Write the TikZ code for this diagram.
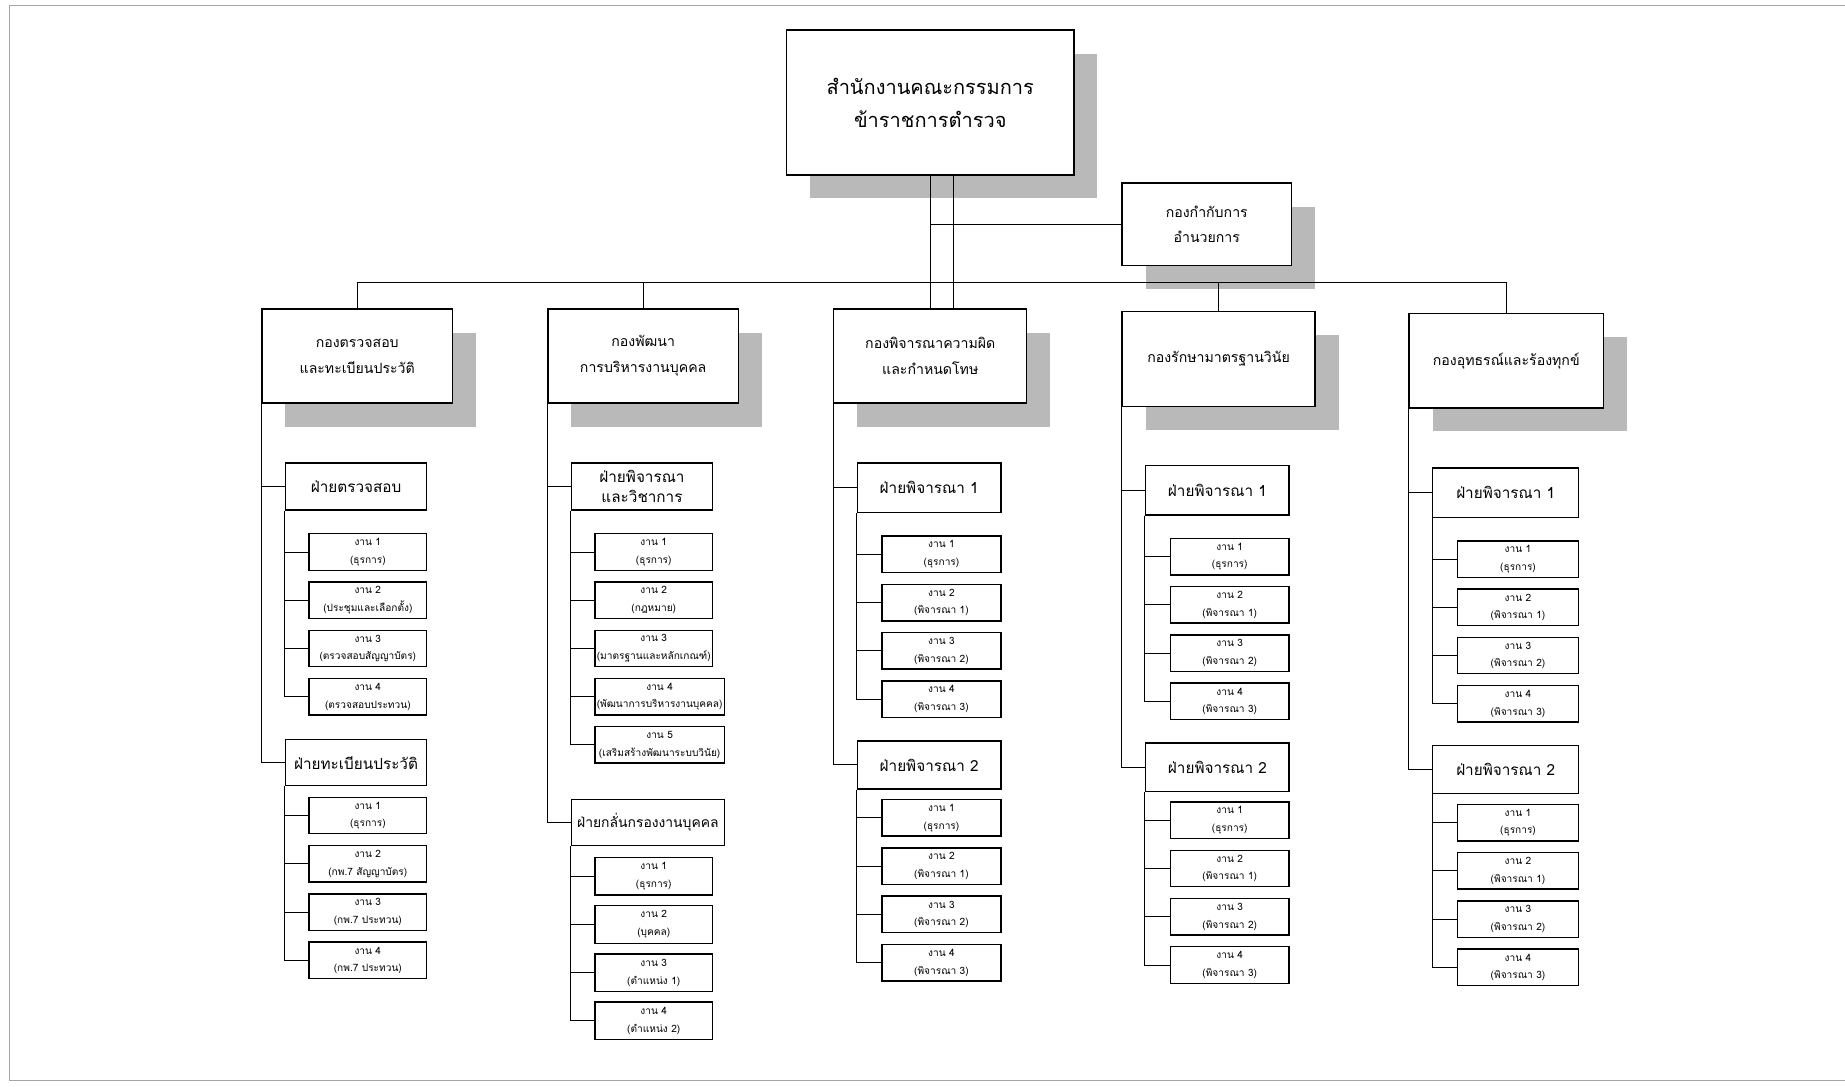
\documentclass[tikz,border=0pt]{standalone}
\usepackage{fontspec}
\setmainfont{Loma}[Script=Thai]
\usetikzlibrary{shadows}
\begin{document}
\begin{tikzpicture}[x=1pt,y=-1pt,
 box/.style={draw, line width=1.2pt, fill=white, align=center, inner sep=0pt, anchor=north west},
 shad/.style={drop shadow={shadow xshift=20pt,shadow yshift=-20pt,fill=gray!55,opacity=1,draw=none}},
 conn/.style={line width=0.8pt},
 frame/.style={line width=0.8pt, draw=gray!70},
 t1/.style={font=\fontsize{17}{28}\selectfont},
 t2/.style={font=\fontsize{12}{22}\selectfont},
 t3/.style={font=\fontsize{13}{17}\selectfont},
 t3s/.style={font=\fontsize{11.8}{17}\selectfont},
 t4/.style={font=\fontsize{8.6}{15}\selectfont},
]
\useasboundingbox (0,0) rectangle (1568,923);
\draw[frame] (1568,5) -- (8,5) -- (8,918) -- (1568,918);

% top level
\node[box,shad,t1,minimum width=244pt,minimum height=123pt] (top) at (668,25) {สำนักงานคณะกรรมการ\\ข้าราชการตำรวจ};
\node[box,shad,t2,minimum width=144pt,minimum height=70pt] (side) at (953,155) {กองกำกับการ\\อำนวยการ};

% level 2
\node[box,shad,t2,minimum width=162pt,minimum height=80pt] (c1) at (222,262) {กองตรวจสอบ\\และทะเบียนประวัติ};
\node[box,shad,t2,minimum width=162pt,minimum height=80pt] (c2) at (465,262) {กองพัฒนา\\การบริหารงานบุคคล};
\node[box,shad,t2,minimum width=164pt,minimum height=80pt] (c3) at (708,262) {กองพิจารณาความผิด\\และกำหนดโทษ};
\node[box,shad,t2,minimum width=164pt,minimum height=81pt] (c4) at (953,264) {กองรักษามาตรฐานวินัย};
\node[box,shad,t2,minimum width=165pt,minimum height=80pt] (c5) at (1197,266) {กองอุทธรณ์และร้องทุกข์};

% column 1
\node[box,t3,minimum width=120pt,minimum height=40pt] (f11) at (242,393) {ฝ่ายตรวจสอบ};
\node[box,t4,minimum width=100pt,minimum height=31pt] (g111) at (262,453) {งาน 1\\(ธุรการ)};
\node[box,t4,minimum width=100pt,minimum height=31pt] (g112) at (262,494) {งาน 2\\(ประชุมและเลือกตั้ง)};
\node[box,t4,minimum width=100pt,minimum height=31pt] (g113) at (262,535) {งาน 3\\(ตรวจสอบสัญญาบัตร)};
\node[box,t4,minimum width=100pt,minimum height=31pt] (g114) at (262,576) {งาน 4\\(ตรวจสอบประทวน)};
\node[box,t3,minimum width=120pt,minimum height=39pt] (f12) at (242,628) {ฝ่ายทะเบียนประวัติ};
\node[box,t4,minimum width=100pt,minimum height=31pt] (g121) at (262,677) {งาน 1\\(ธุรการ)};
\node[box,t4,minimum width=100pt,minimum height=31pt] (g122) at (262,718) {งาน 2\\(กพ.7 สัญญาบัตร)};
\node[box,t4,minimum width=100pt,minimum height=31pt] (g123) at (262,759) {งาน 3\\(กพ.7 ประทวน)};
\node[box,t4,minimum width=100pt,minimum height=31pt] (g124) at (262,800) {งาน 4\\(กพ.7 ประทวน)};

% column 2
\node[box,t3,minimum width=120pt,minimum height=40pt] (f21) at (485,393) {ฝ่ายพิจารณา\\และวิชาการ};
\node[box,t4,minimum width=100pt,minimum height=31pt] (g211) at (505,453) {งาน 1\\(ธุรการ)};
\node[box,t4,minimum width=100pt,minimum height=31pt] (g212) at (505,494) {งาน 2\\(กฎหมาย)};
\node[box,t4,minimum width=100pt,minimum height=31pt] (g213) at (505,535) {งาน 3\\(มาตรฐานและหลักเกณฑ์)};
\node[box,t4,minimum width=110pt,minimum height=31pt] (g214) at (505,576) {งาน 4\\(พัฒนาการบริหารงานบุคคล)};
\node[box,t4,minimum width=110pt,minimum height=31pt] (g215) at (505,617) {งาน 5\\(เสริมสร้างพัฒนาระบบวินัย)};
\node[box,t3s,minimum width=130pt,minimum height=39pt] (f22) at (485,679) {ฝ่ายกลั่นกรองงานบุคคล};
\node[box,t4,minimum width=100pt,minimum height=32pt] (g221) at (505,728) {งาน 1\\(ธุรการ)};
\node[box,t4,minimum width=100pt,minimum height=32pt] (g222) at (505,769) {งาน 2\\(บุคคล)};
\node[box,t4,minimum width=100pt,minimum height=32pt] (g223) at (505,810) {งาน 3\\(ตำแหน่ง 1)};
\node[box,t4,minimum width=100pt,minimum height=32pt] (g224) at (505,851) {งาน 4\\(ตำแหน่ง 2)};

% columns 3-5
\foreach \c/\dx/\dy/\w in {3/0/0/0,4/245/2/0,5/489/4/2}{
  \node[box,t3,minimum width={(122+\w)*1pt},minimum height=42pt] (f\c1) at (728+\dx,393+\dy) {ฝ่ายพิจารณา 1};
  \node[box,t3,minimum width={(122+\w)*1pt},minimum height=41pt] (f\c2) at (728+\dx,629+\dy) {ฝ่ายพิจารณา 2};
  \foreach \k/\lab in {1/ธุรการ,2/พิจารณา 1,3/พิจารณา 2,4/พิจารณา 3}{
    \node[box,t4,minimum width={(101+\w)*1pt},minimum height=31pt] (g\c1\k) at (749+\dx,455+\dy+41*\k-41) {งาน \k\\(\lab)};
    \node[box,t4,minimum width={(101+\w)*1pt},minimum height=31pt] (g\c2\k) at (749+\dx,679+\dy+41*\k-41) {งาน \k\\(\lab)};
    \draw[conn] (f\c1.south west) |- (g\c1\k.west);
    \draw[conn] (f\c2.south west) |- (g\c2\k.west);
  }
  \draw[conn] (c\c.south west) |- (f\c1.west);
  \draw[conn] (c\c.south west) |- (f\c2.west);
}

% connectors top
\coordinate (bus) at (0,240);
\draw[conn] (top.south) -- (top.south |- c3.north);
\draw[conn] ([xshift=20pt]top.south) -- ([xshift=20pt]top.south |- c3.north);
\draw[conn] (top.south |- side.west) -- (side.west);
\draw[conn] (c1.north) -- (c1.north |- bus) -- (c5.north |- bus) -- (c5.north);
\draw[conn] (c2.north) -- (c2.north |- bus);
\draw[conn] (c4.north) -- (c4.north |- bus);

% column 1 and 2 connectors
\draw[conn] (c1.south west) |- (f11.west);
\draw[conn] (c1.south west) |- (f12.west);
\foreach \k in {1,2,3,4}{
  \draw[conn] (f11.south west) |- (g11\k.west);
  \draw[conn] (f12.south west) |- (g12\k.west);
  \draw[conn] (f22.south west) |- (g22\k.west);
}
\draw[conn] (c2.south west) |- (f21.west);
\draw[conn] (c2.south west) |- (f22.west);
\foreach \k in {1,2,3,4,5}{
  \draw[conn] (f21.south west) |- (g21\k.west);
}
\end{tikzpicture}
\end{document}
